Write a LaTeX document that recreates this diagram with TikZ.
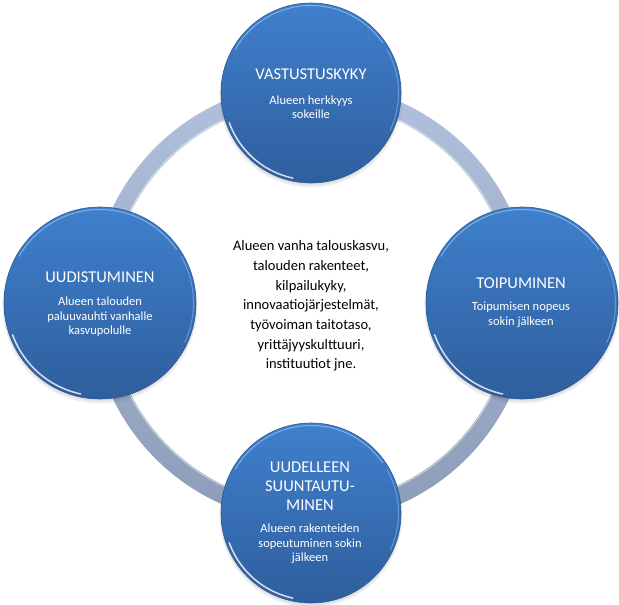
\documentclass[tikz,border=0pt]{standalone}
\usepackage{fontspec}
\setmainfont{Carlito}
\begin{document}
\begin{tikzpicture}[x=1pt,y=-1pt]
\definecolor{ctop}{HTML}{3F80CC}
\definecolor{cbot}{HTML}{2F5E9D}
\definecolor{crim}{HTML}{2C5A94}
\definecolor{ringtop}{HTML}{B1C0DC}
\definecolor{ringbot}{HTML}{8D9CB8}
\definecolor{glow}{HTML}{86B4EE}
\tikzset{
  bubble/.style={circle, inner sep=0pt, top color=ctop, bottom color=cbot, draw=crim, line width=0.6pt},
  ttl/.style={text=white, align=center, inner sep=0pt, font=\fontsize{16.5}{19}\selectfont},
  bdy/.style={text=white, align=center, inner sep=0pt, font=\fontsize{12.5}{14.5}\selectfont},
  ctext/.style={text=black, align=center, inner sep=0pt, font=\fontsize{14.5}{19.7}\selectfont},
  shadowc/.style={fill=black, opacity=0.06},
  gloss/.style={white, opacity=0.8, line width=1.5pt, line cap=round},
  rimlight/.style={glow, opacity=0.9, line width=1pt, line cap=round}
}
\useasboundingbox (0,0) rectangle (619,605);
\fill[white] (0,0) rectangle (619,605);
% ring
\coordinate (cc) at (311,303);
\shade[top color=ringtop, bottom color=ringbot, even odd rule] (cc) circle (220) (cc) circle (202);
\draw[white, opacity=0.6, line width=0.8pt] (cc) circle (203);
% shadows
\foreach \cx/\cy/\rr in {311/93/90, 100/303/96, 522/303/96, 311/513/90}{
  \fill[shadowc] (\cx,\cy+3) circle (\rr+1.5);
  \fill[shadowc] (\cx,\cy+2) circle (\rr+0.5);
}
% circles
\node[bubble, minimum size=180pt] (top) at (311,93) {};
\node[bubble, minimum size=192pt] (left) at (100,303) {};
\node[bubble, minimum size=192pt] (right) at (522,303) {};
\node[bubble, minimum size=180pt] (bot) at (311,513) {};
% glossy rims: visual angle t -> (cx + r cos t, cy - r sin t)
\foreach \cx/\cy/\rr in {311/93/90, 100/303/96, 522/303/96, 311/513/90}{
  \draw[rimlight] plot[domain=35:150, samples=40, smooth] ({\cx+(\rr-2.5)*cos(\x)}, {\cy-(\rr-2.5)*sin(\x)});
  \draw[rimlight, opacity=0.6] plot[domain=-25:30, samples=20, smooth] ({\cx+(\rr-2.5)*cos(\x)}, {\cy-(\rr-2.5)*sin(\x)});
  \draw[gloss] plot[domain=200:258, samples=25, smooth] ({\cx+(\rr-3)*cos(\x)}, {\cy-(\rr-3)*sin(\x)});
}
% texts
\node[ttl] (t1) at (311,74) {VASTUSTUSKYKY};
\node[bdy] (b1) at (311,107) {Alueen herkkyys\\sokeille};
\node[ttl] (t2) at (521,283) {TOIPUMINEN};
\node[bdy] (b2) at (521,315) {Toipumisen nopeus\\sokin jälkeen};
\node[ttl] (t3) at (100,277) {UUDISTUMINEN};
\node[bdy] (b3) at (100,317) {Alueen talouden\\paluuvauhti vanhalle\\kasvupolulle};
\node[ttl] (t4) at (310,486) {UUDELLEEN\\SUUNTAUTU-\\MINEN};
\node[bdy] (b4) at (310,544) {Alueen rakenteiden\\sopeutuminen sokin\\jälkeen};
\node[ctext] (mid) at (311,306) {Alueen vanha talouskasvu,\\talouden rakenteet,\\kilpailukyky,\\innovaatiojärjestelmät,\\työvoiman taitotaso,\\yrittäjyyskulttuuri,\\instituutiot jne.};
\end{tikzpicture}
\end{document}
